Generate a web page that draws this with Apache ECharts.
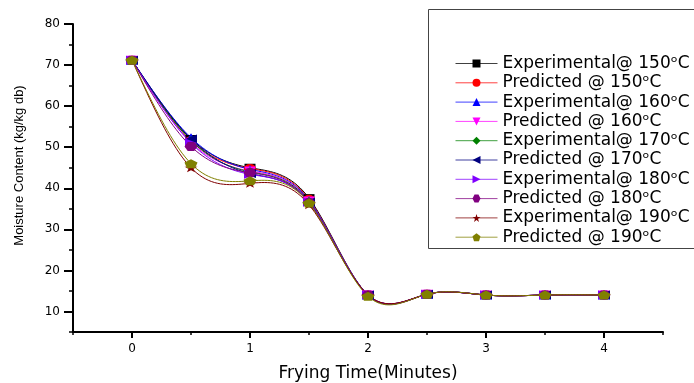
<!DOCTYPE html>
<html><head><meta charset="utf-8">
<script src="https://cdn.jsdelivr.net/npm/echarts@6/dist/echarts.min.js"></script>
<style>html,body{margin:0;padding:0;background:#fff}#c{width:694px;height:383px}</style>
</head><body><div id="c"></div>
<script>
var times = [0, 0.5, 1, 1.5, 2, 2.5, 3, 3.5, 4];
var exp150  = [71.2, 52.0, 45.0, 37.6, 14.0, 14.2, 14.0, 14.0, 14.0];
var pred150 = [71.2, 51.6, 44.8, 37.3, 14.0, 14.2, 14.0, 14.0, 14.0];
var exp160  = [71.2, 52.3, 44.6, 37.1, 14.0, 14.2, 14.0, 14.0, 14.0];
var pred160 = [71.2, 51.2, 44.2, 36.9, 14.0, 14.2, 14.0, 14.0, 14.0];
var exp170  = [71.2, 51.6, 44.0, 36.8, 14.0, 14.2, 14.0, 14.0, 14.0];
var pred170 = [71.2, 52.0, 43.6, 36.6, 14.0, 14.2, 14.0, 14.0, 14.0];
var exp180  = [71.2, 51.0, 43.4, 36.6, 14.0, 14.2, 14.0, 14.0, 14.0];
var pred180 = [71.2, 50.2, 43.8, 36.5, 14.0, 14.2, 14.0, 14.0, 14.0];
var exp190  = [71.2, 45.0, 41.2, 36.0, 14.0, 14.2, 14.0, 14.0, 14.0];
var pred190 = [71.2, 46.0, 41.8, 36.4, 13.7, 14.2, 14.0, 14.0, 14.0];
var names = ['Experimental@ 150', 'Predicted @ 150', 'Experimental@ 160', 'Predicted @ 160',
  'Experimental@ 170', 'Predicted @ 170', 'Experimental@ 180', 'Predicted @ 180',
  'Experimental@ 190', 'Predicted @ 190'];
var xTickLabels = [0, 1, 2, 3, 4];
var yTickLabels = [10, 20, 30, 40, 50, 60, 70, 80];

var valueSets = [exp150, pred150, exp160, pred160, exp170, pred170, exp180, pred180, exp190, pred190];
var colors = ['#000000', '#ff0000', '#0000ff', '#ff00ff', '#008000', '#000080', '#8000ff', '#800080', '#800000', '#808000'];
var symbols = ['rect', 'circle', 'triangle',
  'path://M0,0 L10,0 L5,9 Z',
  'diamond',
  'path://M0,5 L9,0 L9,10 Z',
  'path://M0,0 L9,5 L0,10 Z',
  'path://M2.5,0 L7.5,0 L10,5 L7.5,10 L2.5,10 L0,5 Z',
  'path://M5,0 L6.2,3.6 L10,3.6 L6.9,5.9 L8.1,9.5 L5,7.3 L1.9,9.5 L3.1,5.9 L0,3.6 L3.8,3.6 Z',
  'path://M5,0 L10,3.8 L8.1,10 L1.9,10 L0,3.8 Z'];
var sizes = [[11, 8], [12, 9], [12, 9], [12, 9], [12, 9], [12, 9], [12, 9], [13, 9], [13, 9], [13, 9]];

// natural cubic spline (second derivatives) for drawing connecting curves
function splineM(xs, ys) {
  var n = xs.length, M = new Array(n).fill(0);
  var a = [], b = [], c = [], d = [];
  for (var i = 1; i < n - 1; i++) {
    var h0 = xs[i] - xs[i - 1], h1 = xs[i + 1] - xs[i];
    a.push(h0); b.push(2 * (h0 + h1)); c.push(h1);
    d.push(6 * ((ys[i + 1] - ys[i]) / h1 - (ys[i] - ys[i - 1]) / h0));
  }
  var m = b.length;
  for (var k = 1; k < m; k++) {
    var w = a[k] / b[k - 1];
    b[k] -= w * c[k - 1]; d[k] -= w * d[k - 1];
  }
  var sol = new Array(m);
  for (var k2 = m - 1; k2 >= 0; k2--) {
    sol[k2] = (d[k2] - (k2 < m - 1 ? c[k2] * sol[k2 + 1] : 0)) / b[k2];
  }
  for (var j = 0; j < m; j++) M[j + 1] = sol[j];
  return M;
}
function splineAt(xs, ys, M, i, x) {
  var h = xs[i + 1] - xs[i], A = xs[i + 1] - x, B = x - xs[i];
  return M[i] * A * A * A / (6 * h) + M[i + 1] * B * B * B / (6 * h) +
    (ys[i] / h - M[i] * h / 6) * A + (ys[i + 1] / h - M[i + 1] * h / 6) * B;
}

var series = [];
names.forEach(function (n, i) {
  var ys = valueSets[i];
  var M = splineM(times, ys);
  series.push({
    name: n + ' curve', type: 'custom', xAxisIndex: 0, yAxisIndex: 0,
    data: times.map(function (t, j) { return [t, ys[j]]; }),
    encode: { x: 0, y: 1 }, z: 2, silent: true,
    renderItem: function (params, api) {
      var j = params.dataIndex;
      if (j >= times.length - 1) return null;
      var pts = [];
      for (var s = 0; s <= 20; s++) {
        var x = times[j] + (times[j + 1] - times[j]) * s / 20;
        pts.push(api.coord([x, splineAt(times, ys, M, j, x)]));
      }
      return { type: 'polyline', shape: { points: pts }, style: { stroke: colors[i], fill: null, lineWidth: 1 } };
    }
  });
});
names.forEach(function (n, i) {
  series.push({
    name: n, type: 'line', xAxisIndex: 0, yAxisIndex: 0,
    data: times.map(function (t, j) { return [t, valueSets[i][j]]; }),
    symbol: symbols[i], symbolSize: sizes[i], showAllSymbol: true,
    lineStyle: { color: colors[i], width: 1, opacity: 0 },
    itemStyle: { color: colors[i] },
    z: 3 + i
  });
});

var chart = echarts.init(document.getElementById('c'));
chart.setOption({
  animation: false,
  backgroundColor: '#fff',
  grid: { left: 73, top: 24, right: 31, bottom: 51, outerBoundsMode: 'none', containLabel: false },
  graphic: [{
    type: 'rect', left: 426, top: 7, z: 0,
    shape: { width: 290, height: 239 },
    style: { fill: 'none', stroke: '#444', lineWidth: 1 }
  }],
  legend: {
    orient: 'vertical', left: 450, top: 50,
    itemWidth: 42, itemHeight: 10, itemGap: 2.3,
    data: names,
    lineStyle: { opacity: 0.75, width: 1 },
    formatter: function (n) { return n + '\u1d52C'; },
    textStyle: { fontFamily: 'DejaVu Sans', fontSize: 17, color: '#000', lineHeight: 17 }
  },
  xAxis: [{
    type: 'value', min: -0.5, max: 4.5, interval: 0.5, position: 'bottom',
    name: 'Frying Time(Minutes)', nameLocation: 'middle', nameGap: 33,
    nameTextStyle: { fontFamily: 'DejaVu Sans', fontSize: 17, color: '#000' },
    axisLine: { onZero: false, lineStyle: { color: '#000', width: 2 } },
    axisTick: { show: true, inside: false, length: 3, lineStyle: { color: '#000', width: 1.5 } },
    axisLabel: {
      fontFamily: 'DejaVu Sans', fontSize: 12, color: '#000', margin: 11,
      customValues: xTickLabels
    },
    splitLine: { show: false }
  }, {
    type: 'value', min: -0.5, max: 4.5, position: 'bottom', offset: 0,
    axisLine: { show: false, onZero: false },
    axisTick: { show: true, inside: false, length: 6, customValues: xTickLabels, lineStyle: { color: '#000', width: 2 } },
    axisLabel: { show: false },
    splitLine: { show: false }
  }],
  yAxis: [{
    type: 'value', min: 5, max: 80, interval: 5, position: 'left',
    name: 'Moisture Content (kg/kg db)', nameLocation: 'middle', nameGap: 47,
    nameTextStyle: { fontFamily: 'Liberation Sans', fontSize: 13, color: '#000', padding: [0, 0, 0, 25] },
    axisLine: { show: true, onZero: false, lineStyle: { color: '#000', width: 2 } },
    axisTick: { show: true, inside: false, length: 4, lineStyle: { color: '#000', width: 1.5 } },
    axisLabel: {
      fontFamily: 'DejaVu Sans', fontSize: 12, color: '#000', margin: 13,
      customValues: yTickLabels
    },
    splitLine: { show: false }
  }, {
    type: 'value', min: 5, max: 80, position: 'left', offset: 0,
    axisLine: { show: false, onZero: false },
    axisTick: { show: true, inside: false, length: 9, customValues: yTickLabels, lineStyle: { color: '#000', width: 2 } },
    axisLabel: { show: false },
    splitLine: { show: false }
  }],
  series: series
});
</script></body></html>
